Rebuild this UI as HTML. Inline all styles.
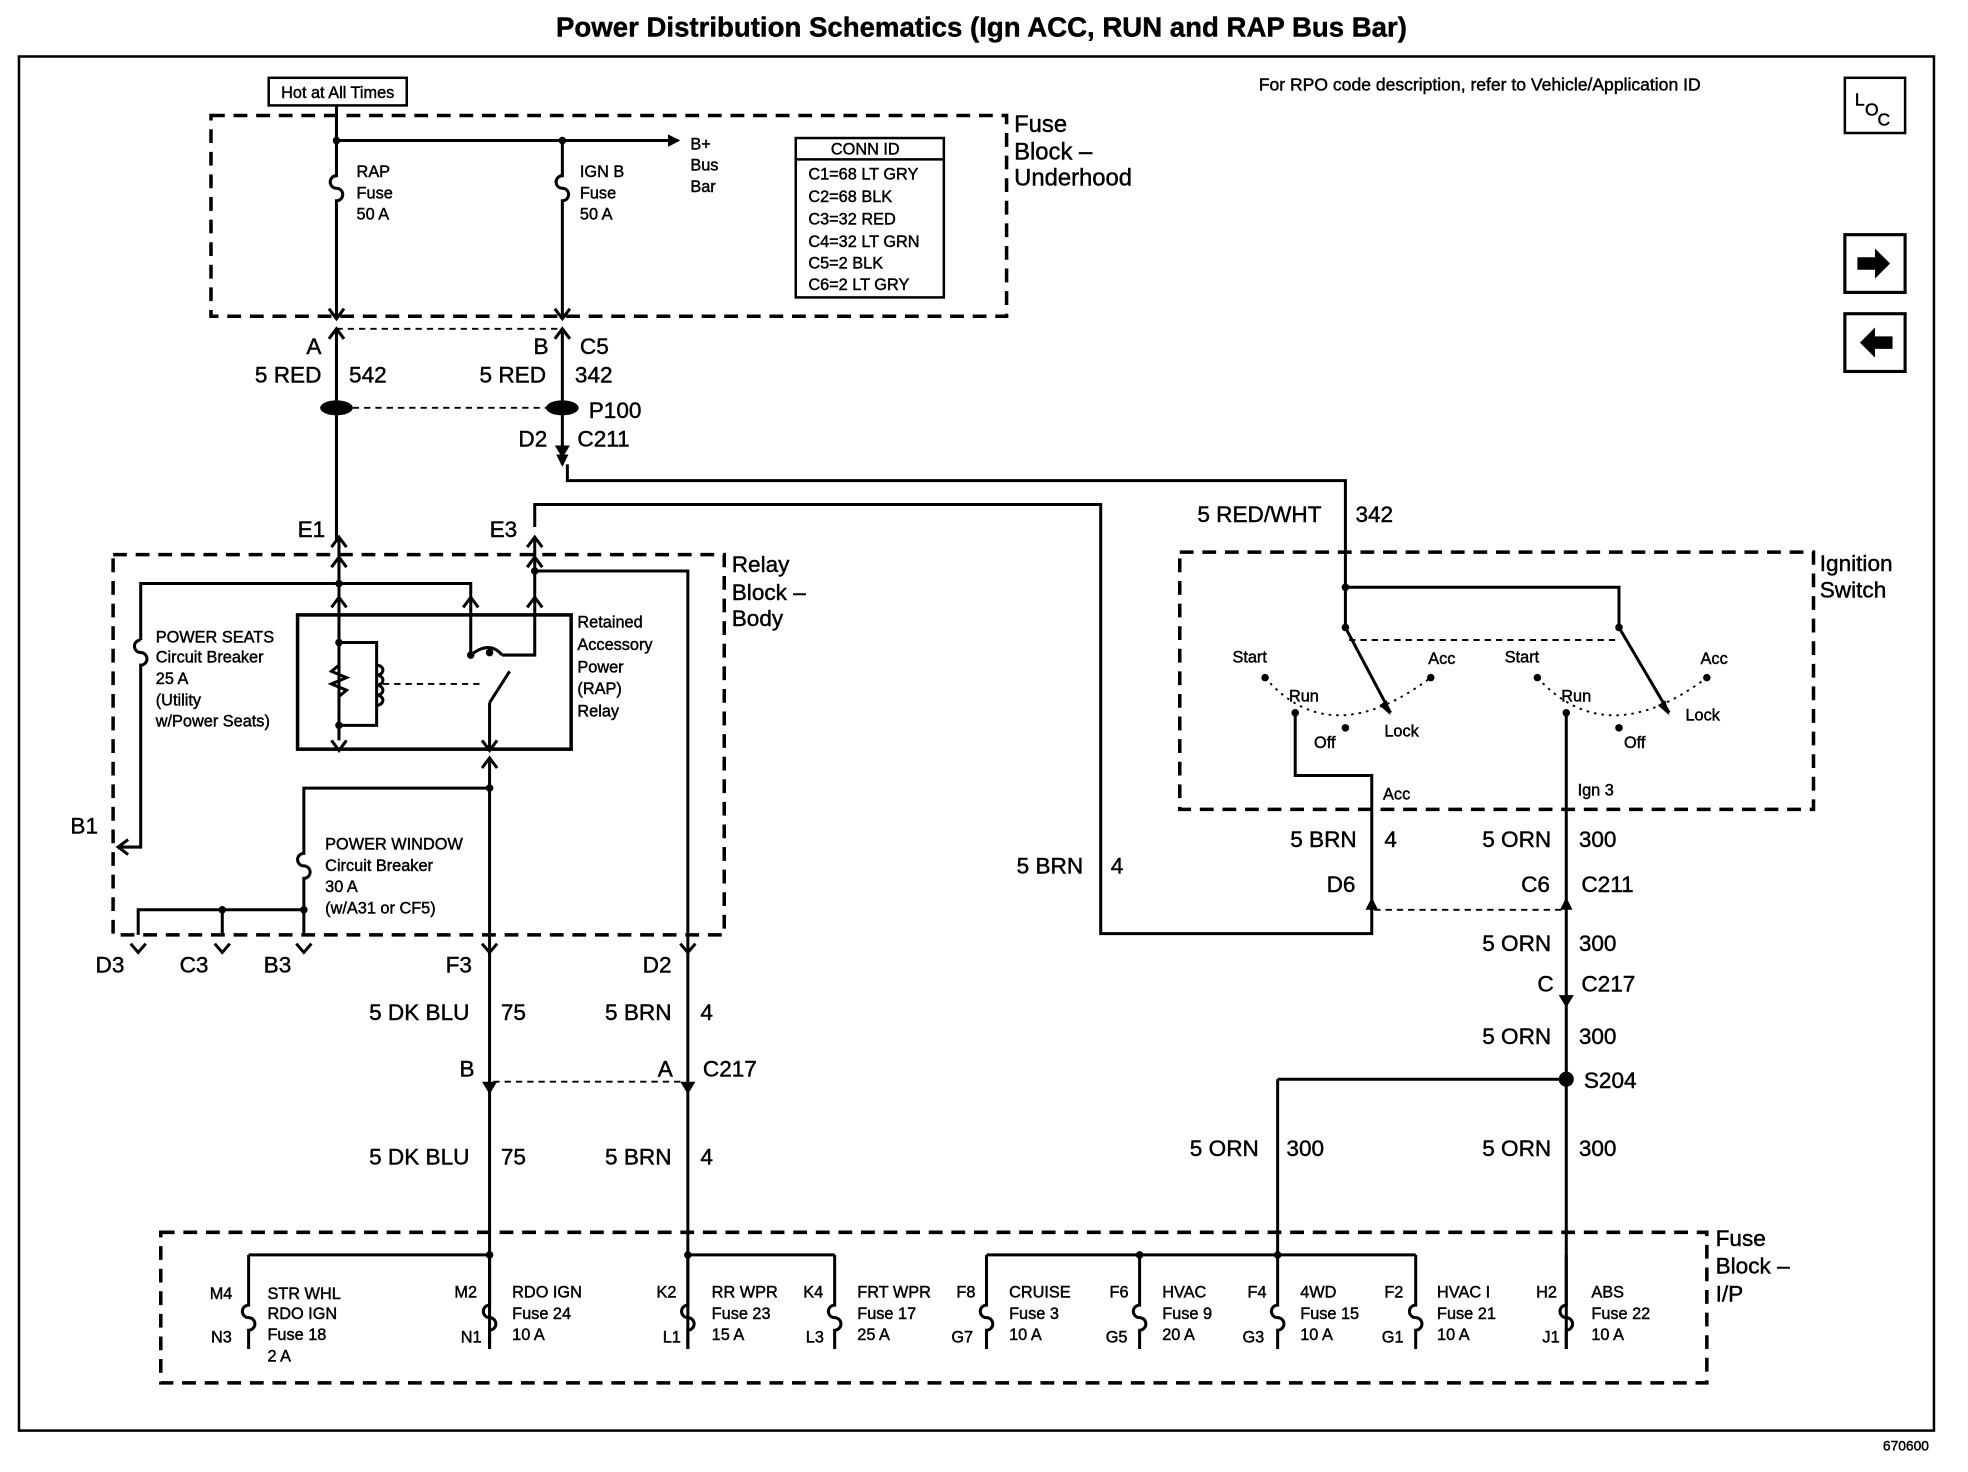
<!DOCTYPE html>
<html><head><meta charset="utf-8"><style>
html,body{margin:0;padding:0;background:#fff;}
svg{display:block;}
text{font-family:"Liberation Sans",Arial,sans-serif;fill:#000;stroke:#000;stroke-width:0.35;}
.s{font-size:13px;}
.m{font-size:18px;}
.l{font-size:19px;}
</style></head><body>
<svg width="1968" height="1472" viewBox="0 0 1568 1173" xmlns="http://www.w3.org/2000/svg">
<defs>
<marker id="ar" markerWidth="10" markerHeight="10" refX="8" refY="5" orient="auto" markerUnits="userSpaceOnUse"><path d="M0,0 L10,5 L0,10 z" fill="#000"/></marker>
</defs>
<rect width="1568" height="1173" fill="#fff"/>
<text x="782" y="29" text-anchor="middle" font-size="22" font-weight="bold">Power Distribution Schematics (Ign ACC, RUN and RAP Bus Bar)</text>
<rect x="15" y="45" width="1526" height="1095" fill="none" stroke="#000" stroke-width="2"/>
<text x="1537" y="1156" font-size="11" text-anchor="end">670600</text>
<text x="1003" y="72" font-size="14">For RPO code description, refer to Vehicle/Application ID</text>
<rect x="1470" y="62" width="48" height="44" fill="none" stroke="#000" stroke-width="2"/>
<text x="1478" y="84" font-size="14">L</text><text x="1486" y="92" font-size="14">O</text><text x="1496" y="100" font-size="14">C</text>
<rect x="1470" y="187" width="48" height="46" fill="none" stroke="#000" stroke-width="2.5"/>
<path d="M1480,205 h14 v-7 l12,12 l-12,12 v-7 h-14z" fill="#000"/>
<rect x="1470" y="250" width="48" height="46" fill="none" stroke="#000" stroke-width="2.5"/>
<path d="M1508,268 h-14 v-7 l-12,12 l12,12 v-7 h14z" fill="#000"/>

<g fill="none" stroke="#000" stroke-width="2.8" stroke-dasharray="11,7">
<rect x="168" y="92" width="634" height="160"/>
<rect x="90" y="442" width="487" height="303"/>
<rect x="940" y="440" width="505" height="205"/>
<rect x="128" y="982" width="1232" height="120"/>
</g>
<g fill="none" stroke="#000" stroke-width="1.5" stroke-dasharray="5,4">
<line x1="268" y1="262" x2="448" y2="262"/>
<line x1="272" y1="325" x2="445" y2="325"/>
<line x1="305" y1="545" x2="385" y2="545"/>
<line x1="1075" y1="510" x2="1290" y2="510"/>
<line x1="393" y1="862" x2="546" y2="862"/>
<line x1="1095" y1="725" x2="1248" y2="725"/>
</g>
<g fill="none" stroke="#000" stroke-width="1.5" stroke-dasharray="2,4">
<path d="M1008,540 Q1060,600 1140,540"/>
<path d="M1225,540 Q1280,600 1360,540"/>
</g>

<rect x="214" y="62" width="110" height="22" fill="none" stroke="#000" stroke-width="2"/>
<text x="269" y="78" font-size="13" text-anchor="middle">Hot at All Times</text>
<text x="808" y="105" class="l">Fuse</text><text x="808" y="127" class="l">Block –</text><text x="808" y="148" class="l">Underhood</text>
<rect x="634" y="110" width="118" height="127" fill="none" stroke="#000" stroke-width="2"/>
<line x1="634" y1="127" x2="752" y2="127" stroke="#000" stroke-width="2"/>
<g class="s"><text x="662" y="123">CONN ID</text><text x="644" y="143">C1=68 LT GRY</text><text x="644" y="161">C2=68 BLK</text><text x="644" y="179">C3=32 RED</text><text x="644" y="197">C4=32 LT GRN</text><text x="644" y="214">C5=2 BLK</text><text x="644" y="231">C6=2 LT GRY</text></g>
<g class="s"><text x="284" y="141">RAP</text><text x="284" y="158">Fuse</text><text x="284" y="175">50 A</text>
<text x="462" y="141">IGN B</text><text x="462" y="158">Fuse</text><text x="462" y="175">50 A</text>
<text x="550" y="119">B+</text><text x="550" y="136">Bus</text><text x="550" y="153">Bar</text></g>

<g fill="none" stroke="#000" stroke-width="2.4">
<line x1="268" y1="84" x2="268" y2="112"/>
<line x1="268" y1="112" x2="540" y2="112" marker-end="url(#ar)"/>
<path d="M268,112 V140 a5,5 0 0 0 0,10 a5,5 0 0 1 0,10 V252"/>
<path d="M448,112 V140 a5,5 0 0 0 0,10 a5,5 0 0 1 0,10 V252"/>
<path d="M262,246 l6,8 l6,-8 M442,246 l6,8 l6,-8"/>
<path d="M262,270 l6,-8 l6,8 M442,270 l6,-8 l6,8"/>
<line x1="268" y1="262" x2="268" y2="430"/>
<line x1="448" y1="262" x2="448" y2="370" marker-end="url(#ar)"/>
<path d="M452,370 V383 H1072 V468"/>
<path d="M426,420 V402 H877 V744 H1093 V720"/>
<path d="M264,436 l6,-8 l6,8 M420,436 l6,-8 l6,8"/>
<line x1="270" y1="430" x2="270" y2="490"/>
<line x1="426" y1="430" x2="426" y2="490"/>
<path d="M264,452 l6,-8 l6,8 M420,452 l6,-8 l6,8"/>
<path d="M112,510 V465 H375 V490"/>
<path d="M369,484 l6,-8 l6,8 M264,484 l6,-8 l6,8 M420,484 l6,-8 l6,8"/>
<path d="M426,455 H548 V745"/>
<rect x="237" y="490" width="218" height="107" stroke-width="2.8"/>
<path d="M270,490 V590 M270,512 H300 V578 H270 M270,530 l-6,5 l12,5 l-12,5 l12,5 l-6,5 M300,530 a5,4 0 0 1 0,8 a5,4 0 0 1 0,8 a5,4 0 0 1 0,8 a5,4 0 0 1 0,8"/>
<path d="M375,490 V522 M426,490 V522 H400 M375,522 q15,-12 25,0 M390,560 L406,535 M390,560 V597"/>
<path d="M264,590 l6,8 l6,-8 M384,590 l6,8 l6,-8"/>
<path d="M384,612 l6,-8 l6,8"/>
<path d="M112,510 a5,5 0 0 0 0,10 a5,5 0 0 1 0,10 V675 H95"/>
<path d="M102,669 l-8,6 l8,6"/>
<line x1="390" y1="605" x2="390" y2="1075"/>
<path d="M390,628 H242 V680 a5,5 0 0 0 0,10 a5,5 0 0 1 0,10 V745"/>
<path d="M242,725 H110 V745 M177,725 V745"/>
<path d="M104,752 l6,7 l6,-7 M171,752 l6,7 l6,-7 M236,752 l6,7 l6,-7 M384,752 l6,7 l6,-7 M542,752 l6,7 l6,-7"/>
<line x1="548" y1="745" x2="548" y2="1075"/>
<path d="M1072,468 H1290 V500 L1330,568 M1072,468 V500 L1108,568"/>
<path d="M1032,568 V618 H1093 V720"/>
<path d="M1248,568 V1075"/>
<path d="M1018,860 H1248 M1018,860 V1000"/>
<path d="M198,1000 H390 M548,1000 H665 M786,1000 H1128"/>
<path d="M198,1000 V1040 a5,5 0 0 0 0,10 a5,5 0 0 1 0,10 V1075"/>
<path d="M390,1000 V1040 a5,5 0 0 0 0,10 a5,5 0 0 1 0,10 V1075"/>
<path d="M548,1000 V1040 a5,5 0 0 0 0,10 a5,5 0 0 1 0,10 V1075"/>
<path d="M665,1000 V1040 a5,5 0 0 0 0,10 a5,5 0 0 1 0,10 V1075"/>
<path d="M786,1000 V1040 a5,5 0 0 0 0,10 a5,5 0 0 1 0,10 V1075"/>
<path d="M908,1000 V1040 a5,5 0 0 0 0,10 a5,5 0 0 1 0,10 V1075"/>
<path d="M1018,1000 V1040 a5,5 0 0 0 0,10 a5,5 0 0 1 0,10 V1075"/>
<path d="M1128,1000 V1040 a5,5 0 0 0 0,10 a5,5 0 0 1 0,10 V1075"/>
<path d="M1248,1000 V1040 a5,5 0 0 0 0,10 a5,5 0 0 1 0,10 V1075"/>
</g>
<g fill="#000">
<path d="M1108,570 l-9,-8 l6,-4z"/><path d="M1330,570 l-9,-8 l6,-4z"/>
<ellipse cx="268" cy="325" rx="13" ry="6"/><ellipse cx="448" cy="325" rx="13" ry="6"/>
<path d="M442,355 l6,10 l6,-10z"/>
<path d="M384,862 l6,10 l6,-10z M542,862 l6,10 l6,-10z M1242,793 l6,10 l6,-10z"/>
<path d="M1088,725 l5,-10 l5,10z M1243,725 l5,-10 l5,10z"/>
<circle cx="268" cy="112" r="3"/><circle cx="448" cy="112" r="3"/>
<circle cx="270" cy="465" r="3"/><circle cx="426" cy="455" r="3"/>
<circle cx="390" cy="628" r="3"/><circle cx="242" cy="725" r="3"/><circle cx="177" cy="725" r="3"/>
<circle cx="1072" cy="468" r="3"/><circle cx="1072" cy="500" r="3"/><circle cx="1290" cy="500" r="3"/>
<circle cx="1032" cy="568" r="3"/><circle cx="1072" cy="580" r="3"/><circle cx="1248" cy="568" r="3"/><circle cx="1290" cy="580" r="3"/>
<circle cx="1008" cy="540" r="3"/><circle cx="1140" cy="540" r="3"/><circle cx="1225" cy="540" r="3"/><circle cx="1360" cy="540" r="3"/>
<circle cx="1248" cy="860" r="6"/><circle cx="908" cy="1000" r="3"/><circle cx="1018" cy="1000" r="3"/>
<circle cx="390" cy="1000" r="3"/><circle cx="548" cy="1000" r="3"/>
<circle cx="390" cy="520" r="3"/><circle cx="375" cy="522" r="3"/><circle cx="270" cy="512" r="3"/><circle cx="270" cy="578" r="3"/>
</g>

<g class="m">
<text x="244" y="282">A</text><text x="425" y="282">B</text><text x="462" y="282">C5</text>
<text x="203" y="305">5 RED</text><text x="278" y="305">542</text>
<text x="382" y="305">5 RED</text><text x="458" y="305">342</text>
<text x="469" y="333">P100</text>
<text x="413" y="356">D2</text><text x="460" y="356">C211</text>
<text x="954" y="416">5 RED/WHT</text><text x="1080" y="416">342</text>
<text x="237" y="428">E1</text><text x="390" y="428">E3</text>
<text x="56" y="664">B1</text>
<text x="810" y="696">5 BRN</text><text x="885" y="696">4</text>
<text x="1028" y="675">5 BRN</text><text x="1103" y="675">4</text>
<text x="1181" y="675">5 ORN</text><text x="1258" y="675">300</text>
<text x="1057" y="711">D6</text><text x="1212" y="711">C6</text><text x="1260" y="711">C211</text>
<text x="1181" y="758">5 ORN</text><text x="1258" y="758">300</text>
<text x="1225" y="790">C</text><text x="1260" y="790">C217</text>
<text x="1181" y="832">5 ORN</text><text x="1258" y="832">300</text>
<text x="1262" y="867">S204</text>
<text x="948" y="921">5 ORN</text><text x="1025" y="921">300</text>
<text x="1181" y="921">5 ORN</text><text x="1258" y="921">300</text>
<text x="76" y="775">D3</text><text x="143" y="775">C3</text><text x="210" y="775">B3</text><text x="355" y="775">F3</text><text x="512" y="775">D2</text>
<text x="294" y="813">5 DK BLU</text><text x="399" y="813">75</text>
<text x="482" y="813">5 BRN</text><text x="558" y="813">4</text>
<text x="366" y="858">B</text><text x="524" y="858">A</text><text x="560" y="858">C217</text>
<text x="294" y="928">5 DK BLU</text><text x="399" y="928">75</text>
<text x="482" y="928">5 BRN</text><text x="558" y="928">4</text>
<text x="583" y="456">Relay</text><text x="583" y="478">Block –</text><text x="583" y="499">Body</text>
<text x="1450" y="455">Ignition</text><text x="1450" y="476">Switch</text>
<text x="1367" y="993">Fuse</text><text x="1367" y="1015">Block –</text><text x="1367" y="1037">I/P</text>
</g>
<g class="s">
<text x="124" y="512">POWER SEATS</text><text x="124" y="528">Circuit Breaker</text><text x="124" y="545">25 A</text><text x="124" y="562">(Utility</text><text x="124" y="579">w/Power Seats)</text>
<text x="460" y="500">Retained</text><text x="460" y="518">Accessory</text><text x="460" y="536">Power</text><text x="460" y="553">(RAP)</text><text x="460" y="571">Relay</text>
<text x="259" y="677">POWER WINDOW</text><text x="259" y="694">Circuit Breaker</text><text x="259" y="711">30 A</text><text x="259" y="728">(w/A31 or CF5)</text>
<text x="982" y="528">Start</text><text x="1027" y="559">Run</text><text x="1047" y="596">Off</text><text x="1103" y="587">Lock</text><text x="1138" y="529">Acc</text>
<text x="1199" y="528">Start</text><text x="1244" y="559">Run</text><text x="1294" y="596">Off</text><text x="1343" y="574">Lock</text><text x="1355" y="529">Acc</text>
<text x="1102" y="637">Acc</text><text x="1257" y="634">Ign 3</text>
<text x="167" y="1035">M4</text><text x="168" y="1070">N3</text>
<text x="213" y="1035">STR WHL</text><text x="213" y="1051">RDO IGN</text><text x="213" y="1068">Fuse 18</text><text x="213" y="1085">2 A</text>
<text x="362" y="1034">M2</text><text x="367" y="1070">N1</text>
<text x="408" y="1034">RDO IGN</text><text x="408" y="1051">Fuse 24</text><text x="408" y="1068">10 A</text>
<text x="523" y="1034">K2</text><text x="528" y="1070">L1</text>
<text x="567" y="1034">RR WPR</text><text x="567" y="1051">Fuse 23</text><text x="567" y="1068">15 A</text>
<text x="640" y="1034">K4</text><text x="642" y="1070">L3</text>
<text x="683" y="1034">FRT WPR</text><text x="683" y="1051">Fuse 17</text><text x="683" y="1068">25 A</text>
<text x="762" y="1034">F8</text><text x="758" y="1070">G7</text>
<text x="804" y="1034">CRUISE</text><text x="804" y="1051">Fuse 3</text><text x="804" y="1068">10 A</text>
<text x="884" y="1034">F6</text><text x="881" y="1070">G5</text>
<text x="926" y="1034">HVAC</text><text x="926" y="1051">Fuse 9</text><text x="926" y="1068">20 A</text>
<text x="994" y="1034">F4</text><text x="990" y="1070">G3</text>
<text x="1036" y="1034">4WD</text><text x="1036" y="1051">Fuse 15</text><text x="1036" y="1068">10 A</text>
<text x="1103" y="1034">F2</text><text x="1101" y="1070">G1</text>
<text x="1145" y="1034">HVAC I</text><text x="1145" y="1051">Fuse 21</text><text x="1145" y="1068">10 A</text>
<text x="1224" y="1034">H2</text><text x="1229" y="1070">J1</text>
<text x="1268" y="1034">ABS</text><text x="1268" y="1051">Fuse 22</text><text x="1268" y="1068">10 A</text>
</g>
</svg>
</body></html>
